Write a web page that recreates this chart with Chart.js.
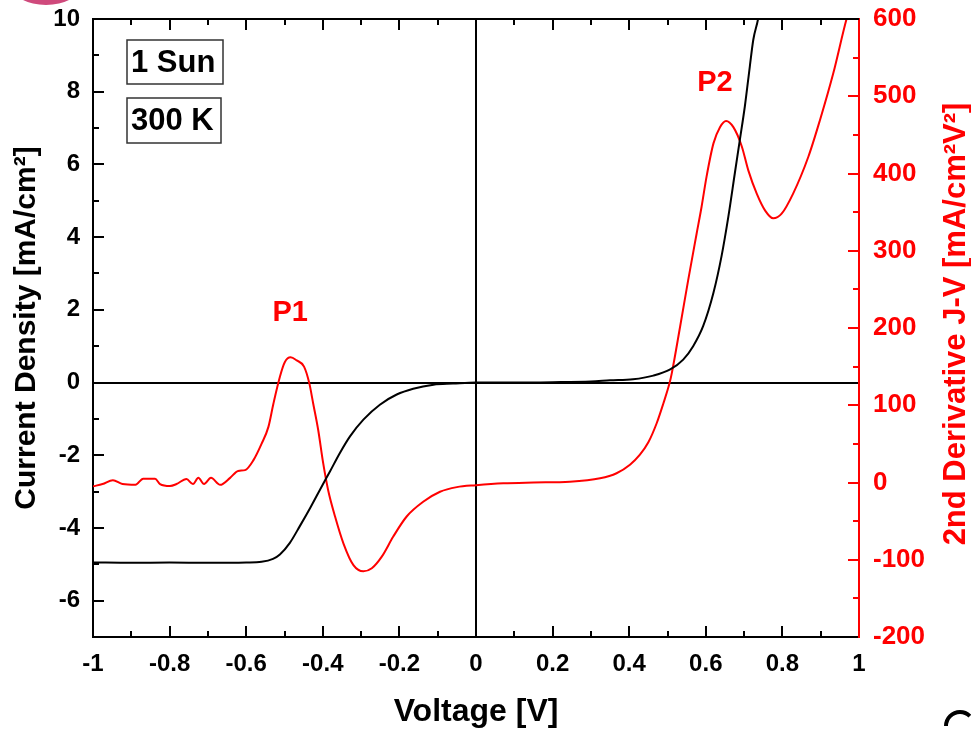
<!DOCTYPE html>
<html>
<head>
<meta charset="utf-8">
<title>J-V and 2nd derivative</title>
<script src="https://cdn.jsdelivr.net/npm/chart.js@4.4.1/dist/chart.umd.min.js"></script>
<style>
  html, body { margin: 0; padding: 0; background: #fff; }
  #wrap { width: 971px; height: 732px; }
</style>
</head>
<body>
<div id="wrap"><canvas id="jv-chart" width="971" height="732"></canvas></div>
<script>
// =========================
// DATA
// =========================

// J-V curve (left axis, mA/cm2)
const jvVoltage = [-1, -0.9, -0.8, -0.7, -0.6, -0.56, -0.53, -0.512, -0.486, -0.46, -0.433, -0.407,
  -0.381, -0.355, -0.329, -0.294, -0.251, -0.207, -0.164, -0.111, -0.06, 0, 0.1, 0.2, 0.3, 0.35,
  0.41, 0.463, 0.507, 0.541, 0.567, 0.593, 0.62, 0.641, 0.659, 0.676, 0.689, 0.702, 0.715, 0.724,
  0.737, 0.75];
const jvCurrent = [-4.95, -4.96, -4.95, -4.96, -4.95, -4.93, -4.85, -4.73, -4.41, -3.95, -3.45, -2.94,
  -2.44, -1.93, -1.48, -1.02, -0.61, -0.33, -0.17, -0.06, -0.03, 0, 0.0, 0.01, 0.03, 0.06,
  0.09, 0.19, 0.36, 0.63, 1.0, 1.55, 2.47, 3.47, 4.57, 5.77, 6.68, 7.6, 8.7, 9.43,
  10.03, 11];

// 2nd derivative of J-V (right axis, mA/cm2V2)
const d2Voltage = [-1, -0.975, -0.948, -0.923, -0.889, -0.869, -0.838, -0.825, -0.799, -0.782, -0.756,
  -0.739, -0.725, -0.71, -0.692, -0.668, -0.642, -0.621, -0.603, -0.581, -0.56, -0.542, -0.529,
  -0.512, -0.499, -0.484, -0.468, -0.449, -0.435, -0.425, -0.412, -0.399, -0.386, -0.368, -0.346,
  -0.32, -0.294, -0.272, -0.246, -0.216, -0.181, -0.138, -0.094, -0.05, 0, 0.071, 0.15, 0.245,
  0.324, 0.367, 0.402, 0.428, 0.45, 0.472, 0.489, 0.505, 0.511, 0.533, 0.554, 0.576, 0.589, 0.602,
  0.62, 0.637, 0.653, 0.672, 0.694, 0.711, 0.733, 0.755, 0.776, 0.798, 0.828, 0.868, 0.898, 0.933,
  0.968, 0.98];
const d2Values = [-5, -2, 3, -2, -3, 5, 5, -2, -4.5, -2, 4.5,
  -2, 6, -2, 6, -3, 6, 15, 16, 29, 50, 72, 102,
  137, 156, 162, 158, 150, 128, 102, 68, 25, -10, -44, -79,
  -107, -115, -111, -96, -70, -44, -25, -12, -6, -3.5, -1, 0, 1,
  5.4, 12, 23, 36, 52, 77, 102, 128, 141, 202, 262, 322, 357, 396,
  439, 460, 468, 460, 435, 404, 374, 352, 342, 348, 374, 422, 469, 530,
  601, 620];

// tick labels
const voltageTicks = [-1, -0.8, -0.6, -0.4, -0.2, 0, 0.2, 0.4, 0.6, 0.8, 1];
const currentTicks = [-6, -4, -2, 0, 2, 4, 6, 8, 10];
const derivTicks = [-200, -100, 0, 100, 200, 300, 400, 500, 600];

// peak labels (voltage, right-axis value)
const peakLabels = [
  { text: "P1", v: -0.485, d: 220 },
  { text: "P2", v: 0.624, d: 517 },
];
const conditionLabels = ["1 Sun", "300 K"];

// =========================
// STYLE
// =========================

const FONT = "'Liberation Sans', Arial, sans-serif";
const RED = "#ff0000";
const BLACK = "#000000";

function zeroLineColor(c) {
  return c.tick && c.tick.value === 0 ? BLACK : "rgba(0,0,0,0)";
}

// keep the plot frame exactly where the original has it
function noEdgePadding(s) {
  s.paddingTop = 0;
  s.paddingBottom = 0;
  s.paddingLeft = 0;
  s.paddingRight = 0;
}

// inward ticks on all four sides + top border
const frameTicks = {
  id: "frameTicks",
  afterDraw(chart) {
    const { ctx, chartArea: a, scales } = chart;
    ctx.save();
    ctx.lineWidth = 2;
    ctx.strokeStyle = BLACK;
    ctx.beginPath();
    ctx.moveTo(a.left - 1, a.top);
    ctx.lineTo(a.right, a.top);
    ctx.stroke();

    ctx.beginPath();
    for (let i = -9; i <= 9; i++) {
      const px = Math.round(scales.x.getPixelForValue(i / 10));
      const len = i % 2 === 0 ? 11 : 6;
      ctx.moveTo(px, a.bottom);
      ctx.lineTo(px, a.bottom - len);
      ctx.moveTo(px, a.top);
      ctx.lineTo(px, a.top + len);
    }
    for (let v = -6; v <= 9; v++) {
      const py = Math.round(scales.y.getPixelForValue(v));
      const len = v % 2 === 0 ? 11 : 6;
      ctx.moveTo(a.left, py);
      ctx.lineTo(a.left + len, py);
    }
    ctx.stroke();

    ctx.strokeStyle = RED;
    ctx.beginPath();
    for (let v = -150; v <= 550; v += 50) {
      const py = Math.round(scales.y2.getPixelForValue(v));
      const len = v % 100 === 0 ? 11 : 6;
      ctx.moveTo(a.right, py);
      ctx.lineTo(a.right - len, py);
    }
    ctx.stroke();

    // right axis title, reading bottom to top
    ctx.fillStyle = RED;
    ctx.font = "bold 31px " + FONT;
    ctx.textAlign = "center";
    ctx.textBaseline = "middle";
    ctx.translate(956, (a.top + a.bottom) / 2 - 4);
    ctx.rotate(-Math.PI / 2);
    ctx.fillText("2nd Derivative J-V [mA/cm²V²]", 0, 0);
    ctx.restore();

    // cropped bits from the original figure
    ctx.save();
    ctx.fillStyle = "#cf4a7c";
    ctx.beginPath();
    ctx.ellipse(46, -14, 34, 19, 0, 0, Math.PI * 2);
    ctx.fill();
    ctx.strokeStyle = BLACK;
    ctx.lineWidth = 4;
    ctx.beginPath();
    ctx.arc(960, 726, 14, Math.PI * 1.0, Math.PI * 1.75);
    ctx.stroke();
    ctx.restore();
  },
};

// text boxes and peak labels
const labelsPlugin = {
  id: "labels",
  afterDatasetsDraw(chart) {
    const { ctx, scales } = chart;
    ctx.save();
    ctx.font = "bold 31px " + FONT;
    ctx.textBaseline = "middle";
    ctx.textAlign = "left";
    const boxes = [
      { x: 127, y: 40, w: 96, h: 44 },
      { x: 127, y: 98, w: 94, h: 45 },
    ];
    boxes.forEach((b, i) => {
      ctx.fillStyle = "#fff";
      ctx.fillRect(b.x, b.y, b.w, b.h);
      ctx.strokeStyle = "#333";
      ctx.lineWidth = 1.5;
      ctx.strokeRect(b.x, b.y, b.w, b.h);
      ctx.fillStyle = BLACK;
      ctx.fillText(conditionLabels[i], b.x + 4, b.y + b.h / 2 + 1);
    });

    ctx.font = "bold 29px " + FONT;
    ctx.fillStyle = RED;
    ctx.textAlign = "center";
    peakLabels.forEach((p) => {
      ctx.fillText(p.text, scales.x.getPixelForValue(p.v), scales.y2.getPixelForValue(p.d));
    });
    ctx.restore();
  },
};

// =========================
// CHART
// =========================

const tickFont = { family: FONT, size: 24, weight: "bold" };

new Chart(document.getElementById("jv-chart"), {
  type: "line",
  data: {
    datasets: [
      {
        label: "J-V",
        data: jvVoltage.map((v, i) => ({ x: v, y: jvCurrent[i] })),
        yAxisID: "y",
        borderColor: BLACK,
        borderWidth: 2,
        pointRadius: 0,
        cubicInterpolationMode: "monotone",
      },
      {
        label: "2nd derivative",
        data: d2Voltage.map((v, i) => ({ x: v, y: d2Values[i] })),
        yAxisID: "y2",
        borderColor: RED,
        borderWidth: 2,
        pointRadius: 0,
        cubicInterpolationMode: "monotone",
      },
    ],
  },
  options: {
    responsive: false,
    animation: false,
    devicePixelRatio: 1,
    layout: { padding: { top: 19, left: 0, right: 0, bottom: 0 } },
    plugins: { legend: { display: false }, tooltip: { enabled: false } },
    scales: {
      x: {
        type: "linear",
        position: "bottom",
        min: -1,
        max: 1,
        afterBuildTicks: (s) => { s.ticks = voltageTicks.map((v) => ({ value: v })); },
        afterFit: (s) => { s.height = 95; noEdgePadding(s); },
        border: { color: BLACK, width: 2 },
        grid: { drawTicks: false, lineWidth: 2, color: zeroLineColor },
        ticks: {
          padding: 13,
          color: BLACK,
          font: tickFont,
          maxRotation: 0,
          autoSkip: false,
          callback: (v) => String(v),
        },
        title: {
          display: true,
          text: "Voltage [V]",
          color: BLACK,
          font: { family: FONT, size: 32, weight: "bold" },
          padding: { top: 0, bottom: 1 },
        },
      },
      y: {
        type: "linear",
        position: "left",
        min: -7,
        max: 10,
        afterBuildTicks: (s) => { s.ticks = currentTicks.map((v) => ({ value: v })); },
        afterFit: (s) => { s.width = 93; noEdgePadding(s); },
        border: { color: BLACK, width: 2 },
        grid: { drawTicks: false, lineWidth: 2, color: zeroLineColor },
        ticks: { padding: 13, color: BLACK, font: tickFont, autoSkip: false },
        title: {
          display: true,
          text: "Current Density [mA/cm²]",
          color: BLACK,
          font: { family: FONT, size: 30, weight: "bold" },
          padding: { top: 9, bottom: 0 },
        },
      },
      y2: {
        type: "linear",
        position: "right",
        min: -200,
        max: 600,
        afterBuildTicks: (s) => { s.ticks = derivTicks.map((v) => ({ value: v })); },
        afterFit: (s) => { s.width = 112; noEdgePadding(s); },
        border: { color: RED, width: 2 },
        grid: { drawOnChartArea: false, drawTicks: false },
        ticks: {
          padding: 14,
          color: RED,
          font: { family: FONT, size: 26, weight: "bold" },
          autoSkip: false,
        },
      },
    },
  },
  plugins: [frameTicks, labelsPlugin],
});
</script>
</body>
</html>
